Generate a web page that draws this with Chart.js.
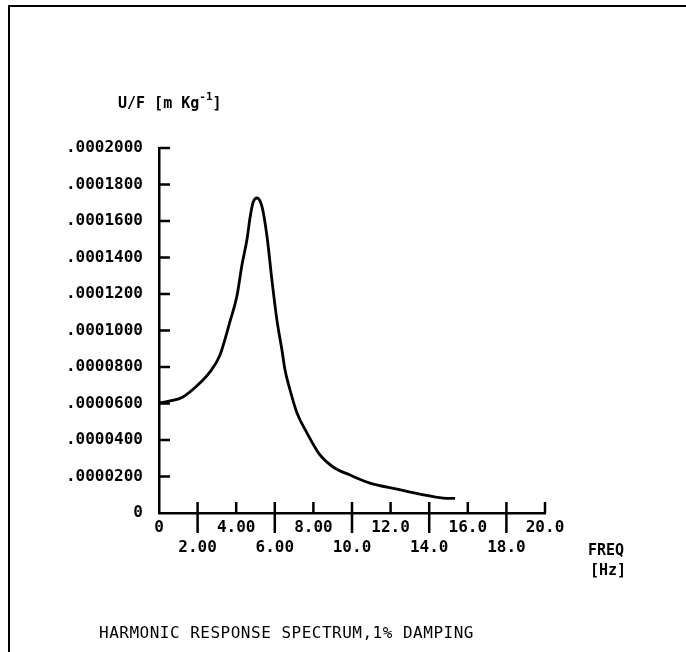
<!DOCTYPE html>
<html>
<head>
<meta charset="utf-8">
<script src="https://cdn.jsdelivr.net/npm/chart.js@4.4.1/dist/chart.umd.min.js"></script>
<style>
  html, body { margin: 0; padding: 0; background: #fff; }
  canvas { display: block; }
</style>
</head>
<body>
<canvas id="spectrum" width="686" height="652"></canvas>
<script>
// frequency (Hz) and response U/F (m/kg)
const freqHz = [0, 0.57, 1.24, 2.12, 2.64, 3.16, 3.68, 4.04, 4.30, 4.56, 4.72, 4.87, 5.08,
  5.34, 5.60, 5.85, 6.11, 6.37, 6.53, 6.79, 7.15, 7.67, 8.34, 9.02, 9.90, 10.93, 12.33,
  13.52, 14.72, 15.34];
const response = [0.0000603, 0.0000614, 0.0000636, 0.0000712, 0.0000773, 0.0000866,
  0.0001050, 0.0001190, 0.0001360, 0.0001500, 0.0001620, 0.0001700, 0.0001726,
  0.0001677, 0.0001512, 0.0001277, 0.0001057, 0.0000893, 0.0000784, 0.0000674,
  0.0000548, 0.0000438, 0.0000318, 0.0000252, 0.0000208, 0.0000164, 0.0000131,
  0.0000104, 0.0000082, 0.0000080];

const yTickLabels = ['0', '.0000200', '.0000400', '.0000600', '.0000800', '.0001000',
  '.0001200', '.0001400', '.0001600', '.0001800', '.0002000'];
const xTickLabels = ['0', '2.00', '4.00', '6.00', '8.00', '10.0', '12.0', '14.0', '16.0',
  '18.0', '20.0'];

const yTitle = 'U/F [m Kg';
const xTitle = ['FREQ', '[Hz]'];
const caption = 'HARMONIC RESPONSE SPECTRUM,1% DAMPING';

const MONO = '"DejaVu Sans Mono", "Liberation Mono", monospace';

// inward tick marks and the page text
const plotterMarks = {
  id: 'plotterMarks',
  afterDraw(chart) {
    const { ctx, scales: { x, y } } = chart;
    const x0 = x.getPixelForValue(0);
    const y0 = y.getPixelForValue(0);
    ctx.save();
    ctx.strokeStyle = '#000';
    ctx.lineWidth = 2.5;
    ctx.beginPath();
    y.ticks.forEach((t, i) => {
      if (i === 0) return;
      const py = y.getPixelForValue(t.value);
      ctx.moveTo(x0, py);
      ctx.lineTo(x0 + 11, py);
    });
    x.ticks.forEach((t, i) => {
      if (i === 0) return;
      const px = x.getPixelForValue(t.value);
      ctx.moveTo(px, y0 - 11);
      ctx.lineTo(px, i % 2 ? y0 + 20 : y0);
    });
    ctx.stroke();

    // page frame (left and top edges)
    ctx.lineWidth = 2;
    ctx.beginPath();
    ctx.moveTo(9, 652);
    ctx.lineTo(9, 6);
    ctx.lineTo(686, 6);
    ctx.stroke();

    ctx.fillStyle = '#000';
    ctx.textBaseline = 'alphabetic';
    ctx.textAlign = 'left';
    ctx.font = 'bold 15px ' + MONO;
    ctx.fillText(yTitle, 118, 108);
    const w = ctx.measureText(yTitle).width;
    ctx.font = 'bold 11px ' + MONO;
    ctx.fillText('-1', 118 + w, 100);
    const w2 = ctx.measureText('-1').width;
    ctx.font = 'bold 15px ' + MONO;
    ctx.fillText(']', 118 + w + w2, 108);

    ctx.fillText(xTitle[0], 588, 555);
    ctx.fillText(xTitle[1], 590, 575);

    ctx.font = '16px ' + MONO;
    ctx.letterSpacing = '0.5px';
    ctx.fillText(caption, 99, 638);
    ctx.restore();
  }
};

new Chart(document.getElementById('spectrum'), {
  type: 'line',
  data: {
    datasets: [{
      data: freqHz.map((f, i) => ({ x: f, y: response[i] })),
      borderColor: '#000',
      borderWidth: 2.8,
      pointRadius: 0,
      fill: false,
      cubicInterpolationMode: 'monotone'
    }]
  },
  options: {
    responsive: false,
    animation: false,
    devicePixelRatio: 1,
    layout: { padding: { left: 0, top: 148, right: 141, bottom: 0 } },
    plugins: {
      legend: { display: false },
      tooltip: { enabled: false }
    },
    scales: {
      x: {
        type: 'linear',
        min: 0,
        max: 20,
        grid: { display: false, drawTicks: false },
        border: { display: true, color: '#000', width: 2.5 },
        afterFit: s => { s.height = 139; },
        ticks: {
          stepSize: 2,
          maxRotation: 0,
          autoSkip: false,
          padding: 5,
          color: '#000',
          font: { family: MONO, size: 16, weight: 'bold', lineHeight: 1.25 },
          callback: (v, i) => (i % 2 ? ['', xTickLabels[i]] : xTickLabels[i])
        }
      },
      y: {
        min: 0,
        max: 0.0002,
        grid: { display: false, drawTicks: false },
        border: { display: true, color: '#000', width: 2.5 },
        afterFit: s => { s.width = 159; },
        ticks: {
          stepSize: 0.00002,
          autoSkip: false,
          padding: 16,
          color: '#000',
          font: { family: MONO, size: 16, weight: 'bold' },
          callback: (v, i) => yTickLabels[i]
        }
      }
    }
  },
  plugins: [plotterMarks]
});
</script>
</body>
</html>
